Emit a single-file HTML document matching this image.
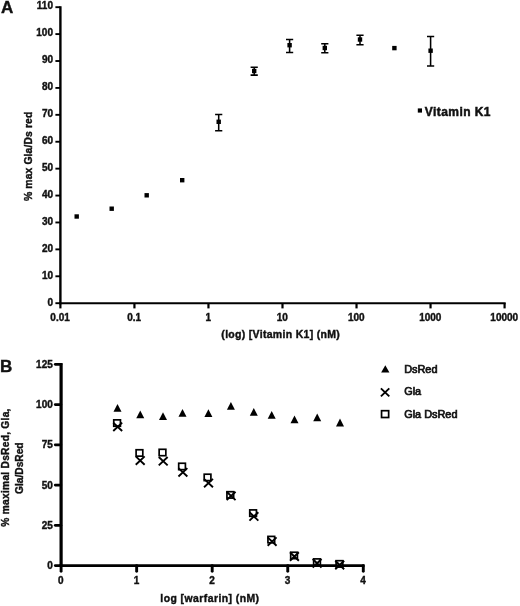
<!DOCTYPE html>
<html><head><meta charset="utf-8"><title>Figure</title>
<style>
html,body{margin:0;padding:0;background:#fff;}
body{width:520px;height:606px;overflow:hidden;font-family:"Liberation Sans",sans-serif;}
svg{display:block;}
text{font-family:"Liberation Sans",sans-serif;font-weight:bold;fill:#111;}
.t{font-size:10px;stroke:#111;stroke-width:0.4px;}
.ax{stroke:#000;fill:none;}
.lg{font-size:10.9px;font-weight:normal;stroke:#111;stroke-width:0.7px;}
svg{will-change:transform;}
</style></head><body>
<svg width="520" height="606" viewBox="0 0 520 606">
<rect width="520" height="606" fill="#fff"/>
<g>

<g id="chartA">
<text x="1" y="13.2" style="font-size:17px;stroke:#111;stroke-width:0.4px">A</text>
<path class="ax" stroke-width="2.4" d="M60.4 6.24V304.15"/>
<path class="ax" stroke-width="1.9" d="M59.20 303.2H505.7"/>
<path class="ax" stroke-width="1.9" d="M55.4 303.20H60.4"/>
<text class="t" x="53.0" y="305.65" text-anchor="end">0</text>
<path class="ax" stroke-width="1.9" d="M55.4 276.29H60.4"/>
<text class="t" x="53.0" y="278.70" text-anchor="end">10</text>
<path class="ax" stroke-width="1.9" d="M55.4 249.38H60.4"/>
<text class="t" x="53.0" y="251.75" text-anchor="end">20</text>
<path class="ax" stroke-width="1.9" d="M55.4 222.47H60.4"/>
<text class="t" x="53.0" y="224.80" text-anchor="end">30</text>
<path class="ax" stroke-width="1.9" d="M55.4 195.56H60.4"/>
<text class="t" x="53.0" y="197.85" text-anchor="end">40</text>
<path class="ax" stroke-width="1.9" d="M55.4 168.65H60.4"/>
<text class="t" x="53.0" y="170.90" text-anchor="end">50</text>
<path class="ax" stroke-width="1.9" d="M55.4 141.74H60.4"/>
<text class="t" x="53.0" y="143.94" text-anchor="end">60</text>
<path class="ax" stroke-width="1.9" d="M55.4 114.83H60.4"/>
<text class="t" x="53.0" y="116.99" text-anchor="end">70</text>
<path class="ax" stroke-width="1.9" d="M55.4 87.92H60.4"/>
<text class="t" x="53.0" y="90.04" text-anchor="end">80</text>
<path class="ax" stroke-width="1.9" d="M55.4 61.01H60.4"/>
<text class="t" x="53.0" y="63.09" text-anchor="end">90</text>
<path class="ax" stroke-width="1.9" d="M55.4 34.10H60.4"/>
<text class="t" x="53.0" y="36.14" text-anchor="end">100</text>
<path class="ax" stroke-width="1.9" d="M55.4 7.19H60.4"/>
<text class="t" x="53.0" y="9.19" text-anchor="end">110</text>
<path class="ax" stroke-width="2.2" d="M60.40 303.2V308.4"/>
<text class="t" x="60.10" y="320.9" text-anchor="middle">0.01</text>
<path class="ax" stroke-width="2.2" d="M134.43 303.2V308.4"/>
<text class="t" x="134.13" y="320.9" text-anchor="middle">0.1</text>
<path class="ax" stroke-width="2.2" d="M208.46 303.2V308.4"/>
<text class="t" x="208.16" y="320.9" text-anchor="middle">1</text>
<path class="ax" stroke-width="2.2" d="M282.49 303.2V308.4"/>
<text class="t" x="282.19" y="320.9" text-anchor="middle">10</text>
<path class="ax" stroke-width="2.2" d="M356.52 303.2V308.4"/>
<text class="t" x="356.22" y="320.9" text-anchor="middle">100</text>
<path class="ax" stroke-width="2.2" d="M430.55 303.2V308.4"/>
<text class="t" x="430.25" y="320.9" text-anchor="middle">1000</text>
<path class="ax" stroke-width="2.2" d="M504.58 303.2V308.4"/>
<text class="t" x="504.28" y="320.9" text-anchor="middle">10000</text>
<text class="t" x="280.7" y="338.3" text-anchor="middle" style="font-size:10.5px;letter-spacing:0.3px">(log) [Vitamin K1] (nM)</text>
<text class="t" transform="translate(31.5 156.3) rotate(-90)" text-anchor="middle" style="font-size:10.4px;letter-spacing:0.1px">% max Gla/Ds red</text>
<rect x="74.50" y="214.30" width="4.4" height="4.4" fill="#000"/>
<rect x="109.50" y="206.50" width="4.4" height="4.4" fill="#000"/>
<rect x="144.50" y="193.10" width="4.4" height="4.4" fill="#000"/>
<rect x="180.00" y="178.00" width="4.4" height="4.4" fill="#000"/>
<path class="ax" stroke-width="1.55" d="M218.7 114.5V130.8M215.10 114.5h7.2M215.10 130.8h7.2"/>
<rect x="216.50" y="119.60" width="4.4" height="4.4" fill="#000"/>
<path class="ax" stroke-width="1.55" d="M254.2 67.2V75.1M250.60 67.2h7.2M250.60 75.1h7.2"/>
<rect x="252.00" y="68.80" width="4.4" height="4.4" fill="#000"/>
<path class="ax" stroke-width="1.55" d="M289.6 39.5V52.4M286.00 39.5h7.2M286.00 52.4h7.2"/>
<rect x="287.40" y="43.00" width="4.4" height="4.4" fill="#000"/>
<path class="ax" stroke-width="1.55" d="M324.8 43.8V52.8M321.20 43.8h7.2M321.20 52.8h7.2"/>
<rect x="322.60" y="45.80" width="4.4" height="4.4" fill="#000"/>
<path class="ax" stroke-width="1.55" d="M360 35.2V44.75M356.40 35.2h7.2M356.40 44.75h7.2"/>
<rect x="357.80" y="37.30" width="4.4" height="4.4" fill="#000"/>
<rect x="392.20" y="45.90" width="4.4" height="4.4" fill="#000"/>
<path class="ax" stroke-width="1.55" d="M430.6 36.5V65.9M427.00 36.5h7.2M427.00 65.9h7.2"/>
<rect x="428.40" y="48.50" width="4.4" height="4.4" fill="#000"/>
<rect x="417.8" y="108.4" width="4.2" height="4.2" fill="#000"/>
<text x="424.7" y="115.8" style="font-size:12px;letter-spacing:0.45px;stroke:#111;stroke-width:0.5px">Vitamin K1</text>
</g>
<g id="chartB">
<text x="0" y="372" style="font-size:17px;stroke:#111;stroke-width:0.4px">B</text>
<path class="ax" stroke-width="3.2" d="M61.1 363.05V567.00"/>
<path class="ax" stroke-width="2.8" d="M59.50 565.6H364.5"/>
<path class="ax" stroke-width="2.6" stroke-linecap="round" d="M55.2 565.60H60.9"/>
<text class="t" x="52.8" y="569.00" text-anchor="end">0</text>
<path class="ax" stroke-width="2.6" stroke-linecap="round" d="M55.2 525.35H60.9"/>
<text class="t" x="52.8" y="528.75" text-anchor="end">25</text>
<path class="ax" stroke-width="2.6" stroke-linecap="round" d="M55.2 485.10H60.9"/>
<text class="t" x="52.8" y="488.50" text-anchor="end">50</text>
<path class="ax" stroke-width="2.6" stroke-linecap="round" d="M55.2 444.85H60.9"/>
<text class="t" x="52.8" y="448.25" text-anchor="end">75</text>
<path class="ax" stroke-width="2.6" stroke-linecap="round" d="M55.2 404.60H60.9"/>
<text class="t" x="52.8" y="408.00" text-anchor="end">100</text>
<path class="ax" stroke-width="2.6" stroke-linecap="round" d="M55.2 364.35H60.9"/>
<text class="t" x="52.8" y="367.75" text-anchor="end">125</text>
<path class="ax" stroke-width="2.9" stroke-linecap="round" d="M61.10 565.6V571.3"/>
<text class="t" x="60.90" y="583.7" text-anchor="middle">0</text>
<path class="ax" stroke-width="2.9" stroke-linecap="round" d="M136.65 565.6V571.3"/>
<text class="t" x="136.45" y="583.7" text-anchor="middle">1</text>
<path class="ax" stroke-width="2.9" stroke-linecap="round" d="M212.20 565.6V571.3"/>
<text class="t" x="212.00" y="583.7" text-anchor="middle">2</text>
<path class="ax" stroke-width="2.9" stroke-linecap="round" d="M287.75 565.6V571.3"/>
<text class="t" x="287.55" y="583.7" text-anchor="middle">3</text>
<path class="ax" stroke-width="2.9" stroke-linecap="round" d="M363.30 565.6V571.3"/>
<text class="t" x="363.10" y="583.7" text-anchor="middle">4</text>
<text class="t" x="209.9" y="601.7" text-anchor="middle" style="font-size:10.4px;letter-spacing:0.45px">log [warfarin] (nM)</text>
<text class="t" transform="translate(9.2 467.5) rotate(-90)" text-anchor="middle" style="font-size:10.2px;letter-spacing:0.27px">% maximal DsRed, Gla,</text>
<text class="t" transform="translate(23.0 468.2) rotate(-90)" text-anchor="middle" style="font-size:10.2px;letter-spacing:0px">Gla/DsRed</text>
<path d="M117.50 403.90l4.0 7.8h-8z" fill="#000"/>
<path d="M140.25 410.50l4.0 7.8h-8z" fill="#000"/>
<path d="M163.00 412.30l4.0 7.8h-8z" fill="#000"/>
<path d="M182.50 409.00l4.0 7.8h-8z" fill="#000"/>
<path d="M208.40 409.30l4.0 7.8h-8z" fill="#000"/>
<path d="M230.90 401.90l4.0 7.8h-8z" fill="#000"/>
<path d="M253.80 408.00l4.0 7.8h-8z" fill="#000"/>
<path d="M271.70 410.90l4.0 7.8h-8z" fill="#000"/>
<path d="M294.50 415.50l4.0 7.8h-8z" fill="#000"/>
<path d="M317.20 413.40l4.0 7.8h-8z" fill="#000"/>
<path d="M340.00 418.60l4.0 7.8h-8z" fill="#000"/>
<rect x="113.75" y="419.85" width="6.7" height="6.4" fill="none" stroke="#000" stroke-width="1.7"/>
<rect x="136.10" y="449.75" width="6.7" height="6.4" fill="none" stroke="#000" stroke-width="1.7"/>
<rect x="159.15" y="449.30" width="6.7" height="6.4" fill="none" stroke="#000" stroke-width="1.7"/>
<rect x="178.70" y="463.25" width="6.7" height="6.4" fill="none" stroke="#000" stroke-width="1.7"/>
<rect x="204.20" y="474.20" width="6.7" height="6.4" fill="none" stroke="#000" stroke-width="1.7"/>
<rect x="226.95" y="491.70" width="6.7" height="6.4" fill="none" stroke="#000" stroke-width="1.7"/>
<rect x="249.75" y="509.90" width="6.7" height="6.4" fill="none" stroke="#000" stroke-width="1.7"/>
<rect x="267.95" y="536.40" width="6.7" height="6.4" fill="none" stroke="#000" stroke-width="1.7"/>
<rect x="290.70" y="552.25" width="6.7" height="6.4" fill="none" stroke="#000" stroke-width="1.7"/>
<rect x="313.65" y="558.90" width="6.7" height="6.4" fill="none" stroke="#000" stroke-width="1.7"/>
<rect x="336.10" y="560.70" width="6.7" height="6.4" fill="none" stroke="#000" stroke-width="1.7"/>
<path class="ax" stroke-width="1.9" d="M113.25 422.60l8.9 8.4M122.15 422.60l-8.9 8.4"/>
<path class="ax" stroke-width="1.9" d="M135.75 456.40l8.9 8.4M144.65 456.40l-8.9 8.4"/>
<path class="ax" stroke-width="1.9" d="M158.75 457.00l8.9 8.4M167.65 457.00l-8.9 8.4"/>
<path class="ax" stroke-width="1.9" d="M178.45 468.10l8.9 8.4M187.35 468.10l-8.9 8.4"/>
<path class="ax" stroke-width="1.9" d="M204.05 478.90l8.9 8.4M212.95 478.90l-8.9 8.4"/>
<path class="ax" stroke-width="1.9" d="M226.65 491.70l8.9 8.4M235.55 491.70l-8.9 8.4"/>
<path class="ax" stroke-width="1.9" d="M249.45 512.20l8.9 8.4M258.35 512.20l-8.9 8.4"/>
<path class="ax" stroke-width="1.9" d="M267.65 537.40l8.9 8.4M276.55 537.40l-8.9 8.4"/>
<path class="ax" stroke-width="1.9" d="M289.95 552.30l8.9 8.4M298.85 552.30l-8.9 8.4"/>
<path class="ax" stroke-width="1.9" d="M312.65 559.05l8.9 8.4M321.55 559.05l-8.9 8.4"/>
<path class="ax" stroke-width="1.9" d="M335.25 560.80l8.9 8.4M344.15 560.80l-8.9 8.4"/>
<path d="M385.30 365.20l4.15 7.2h-8.3z" fill="#000"/>
<text x="404.2" y="372.9" class="lg">DsRed</text>
<path class="ax" stroke-width="1.9" d="M380.90 388.40l8.4 8.0M389.30 388.40l-8.4 8.0"/>
<text x="404.2" y="395.4" class="lg">Gla</text>
<rect x="381.55" y="410.70" width="7.1" height="6.8" fill="none" stroke="#000" stroke-width="1.7"/>
<text x="404.2" y="418.2" class="lg">Gla DsRed</text>
</g>
</g></svg></body></html>
